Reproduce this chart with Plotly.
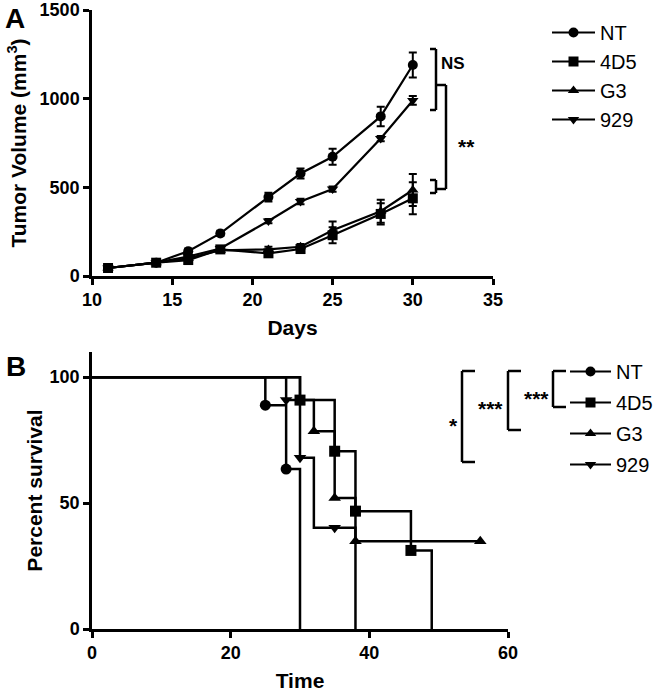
import plotly.graph_objects as go

# ---------------- Data: panel A (tumor volume) ----------------
days = [11, 14, 16, 18, 21, 23, 25, 28, 30]
groups = ["NT", "4D5", "G3", "929"]
vol_nt = [45, 75, 140, 240, 445, 578, 672, 900, 1190]
err_nt = [10, 10, 15, 15, 25, 28, 45, 55, 70]
vol_4d5 = [45, 75, 90, 150, 128, 152, 230, 350, 438]
err_4d5 = [8, 8, 10, 15, 15, 15, 45, 60, 90]
vol_g3 = [45, 75, 100, 145, 150, 165, 258, 365, 485]
err_g3 = [8, 8, 10, 12, 15, 15, 50, 65, 90]
vol_929 = [45, 75, 110, 155, 310, 420, 490, 775, 990]
err_929 = [8, 8, 10, 12, 12, 15, 15, 15, 25]

# ---------------- Data: panel B (survival) ----------------
t_nt = [0, 25, 28, 30]
s_nt = [100, 88.9, 63.5, 0]
t_4d5 = [0, 30, 35, 38, 46, 49]
s_4d5 = [100, 90.9, 70.6, 46.8, 31.2, 0]
t_g3 = [0, 30, 32, 35, 38, 56]
s_g3 = [100, 90.9, 78.5, 52, 34.8, 34.8]
t_929 = [0, 28, 30, 32, 38]
s_929 = [100, 90.9, 68, 40.2, 0]

# symbol positions on the survival curves
mt_nt = [25, 28]
ms_nt = [88.9, 63.5]
mt_4d5 = [30, 35, 38, 46]
ms_4d5 = [90.9, 70.6, 46.8, 31.2]
mt_g3 = [32, 35, 38, 56]
ms_g3 = [78.5, 52, 34.8, 34.8]
mt_929 = [28, 30, 35]
ms_929 = [90.9, 68, 40.2]

symbols = ["circle", "square", "triangle-up", "triangle-down"]

W, H = 660, 692
FONT = "Liberation Sans, Arial, sans-serif"


def X(p):
    return p / W


def Y(p):
    return 1 - p / H


fig = go.Figure()

vols = [vol_nt, vol_4d5, vol_g3, vol_929]
errs = [err_nt, err_4d5, err_g3, err_929]
for name, v, e, sym in zip(groups, vols, errs, symbols):
    fig.add_trace(go.Scatter(
        x=days, y=v, name=name, mode="lines+markers",
        error_y=dict(type="data", array=e, color="black", thickness=2, width=4),
        marker=dict(symbol=sym, size=10, color="black"),
        line=dict(color="black", width=2.2),
        xaxis="x", yaxis="y", legend="legend", legendgroup="a" + name,
        cliponaxis=False,
    ))

ts = [t_nt, t_4d5, t_g3, t_929]
ss = [s_nt, s_4d5, s_g3, s_929]
mts = [mt_nt, mt_4d5, mt_g3, mt_929]
mss = [ms_nt, ms_4d5, ms_g3, ms_929]
for name, t, s, mt, ms, sym in zip(groups, ts, ss, mts, mss, symbols):
    fig.add_trace(go.Scatter(
        x=t, y=s, mode="lines", line=dict(color="black", width=2.5, shape="hv"),
        xaxis="x2", yaxis="y2", showlegend=False, cliponaxis=False,
    ))
    fig.add_trace(go.Scatter(
        x=mt, y=ms, mode="markers",
        marker=dict(symbol=sym, size=11, color="black"),
        xaxis="x2", yaxis="y2", showlegend=False, cliponaxis=False,
    ))
    fig.add_trace(go.Scatter(
        x=[None], y=[None], name=name, mode="lines+markers",
        marker=dict(symbol=sym, size=10, color="black"),
        line=dict(color="black", width=2.2),
        xaxis="x2", yaxis="y2", legend="legend2", legendgroup="b" + name,
    ))

axis_common = dict(
    showline=True, linecolor="black", linewidth=2.5,
    ticks="outside", ticklen=6, tickwidth=2.5, tickcolor="black",
    showgrid=False, zeroline=False, automargin=False,
    tickfont=dict(family=FONT, size=18, color="black", weight="bold"),
    title_font=dict(family=FONT, size=21, color="black", weight="bold"),
)

fig.update_layout(
    width=W, height=H,
    margin=dict(l=0, r=0, t=0, b=0, autoexpand=False),
    paper_bgcolor="white", plot_bgcolor="white",
    font=dict(family=FONT, color="black"),
    xaxis=dict(domain=[X(92), X(493)], range=[10, 35], tickvals=[10, 15, 20, 25, 30, 35],
               anchor="y", title=dict(text="Days", standoff=11), **axis_common),
    yaxis=dict(domain=[Y(276), Y(10)], range=[0, 1500], tickvals=[0, 500, 1000, 1500],
               anchor="x", title=dict(text="Tumor Volume (mm<sup>3</sup>)", standoff=8), **axis_common),
    xaxis2=dict(domain=[X(92), X(508)], range=[0, 60], tickvals=[0, 20, 40, 60],
                anchor="y2", title=dict(text="Time", standoff=12), **axis_common),
    yaxis2=dict(domain=[Y(629), Y(352)], range=[0, 110], tickvals=[0, 50, 100],
                anchor="x2", title=dict(text="Percent survival", standoff=2), **axis_common),
    legend=dict(x=X(547), y=Y(13), xanchor="left", yanchor="top",
                font=dict(family=FONT, size=20, color="black"),
                itemwidth=43, tracegroupgap=0, bgcolor="rgba(0,0,0,0)"),
    legend2=dict(x=X(565), y=Y(352), xanchor="left", yanchor="top",
                 font=dict(family=FONT, size=20, color="black"),
                 itemwidth=41, tracegroupgap=2, bgcolor="rgba(0,0,0,0)"),
)

# ---------------- significance brackets ----------------
def seg(x0, y0, x1, y1):
    fig.add_shape(type="line", xref="paper", yref="paper",
                  x0=X(x0), y0=Y(y0), x1=X(x1), y1=Y(y1),
                  line=dict(color="black", width=2.5))


# Panel A
for (top, bot) in [(49, 110), (180, 193)]:
    seg(430, top, 436, top)
    seg(436, top, 436, bot)
    seg(430, bot, 436, bot)
seg(436, 85, 446, 85)
seg(446, 85, 446, 189)
seg(436, 189, 446, 189)

# Panel B
for (xv, top, bot) in [(553, 371, 407), (508, 371, 430), (462, 371, 462)]:
    seg(xv, top, xv + 13, top)
    seg(xv, top, xv, bot)
    seg(xv, bot, xv + 13, bot)


def text(s, px, py, size, bold=True):
    fig.add_annotation(text=s, xref="paper", yref="paper", x=X(px), y=Y(py),
                       xanchor="center", yanchor="middle", showarrow=False,
                       font=dict(family=FONT, size=size, color="black",
                                 weight="bold" if bold else "normal"))


text("NS", 453, 63, 17)
text("**", 466, 146, 21)
text("***", 536, 398, 21)
text("***", 490, 408, 21)
text("*", 453, 425, 21)
text("A", 15, 18, 28)
text("B", 16, 366, 28)

# remove the browser's default 8px page margin so the figure sits at the window origin
fig.write_html("out.html", config={"displayModeBar": False},
               post_script="document.body.style.margin='0px';")
